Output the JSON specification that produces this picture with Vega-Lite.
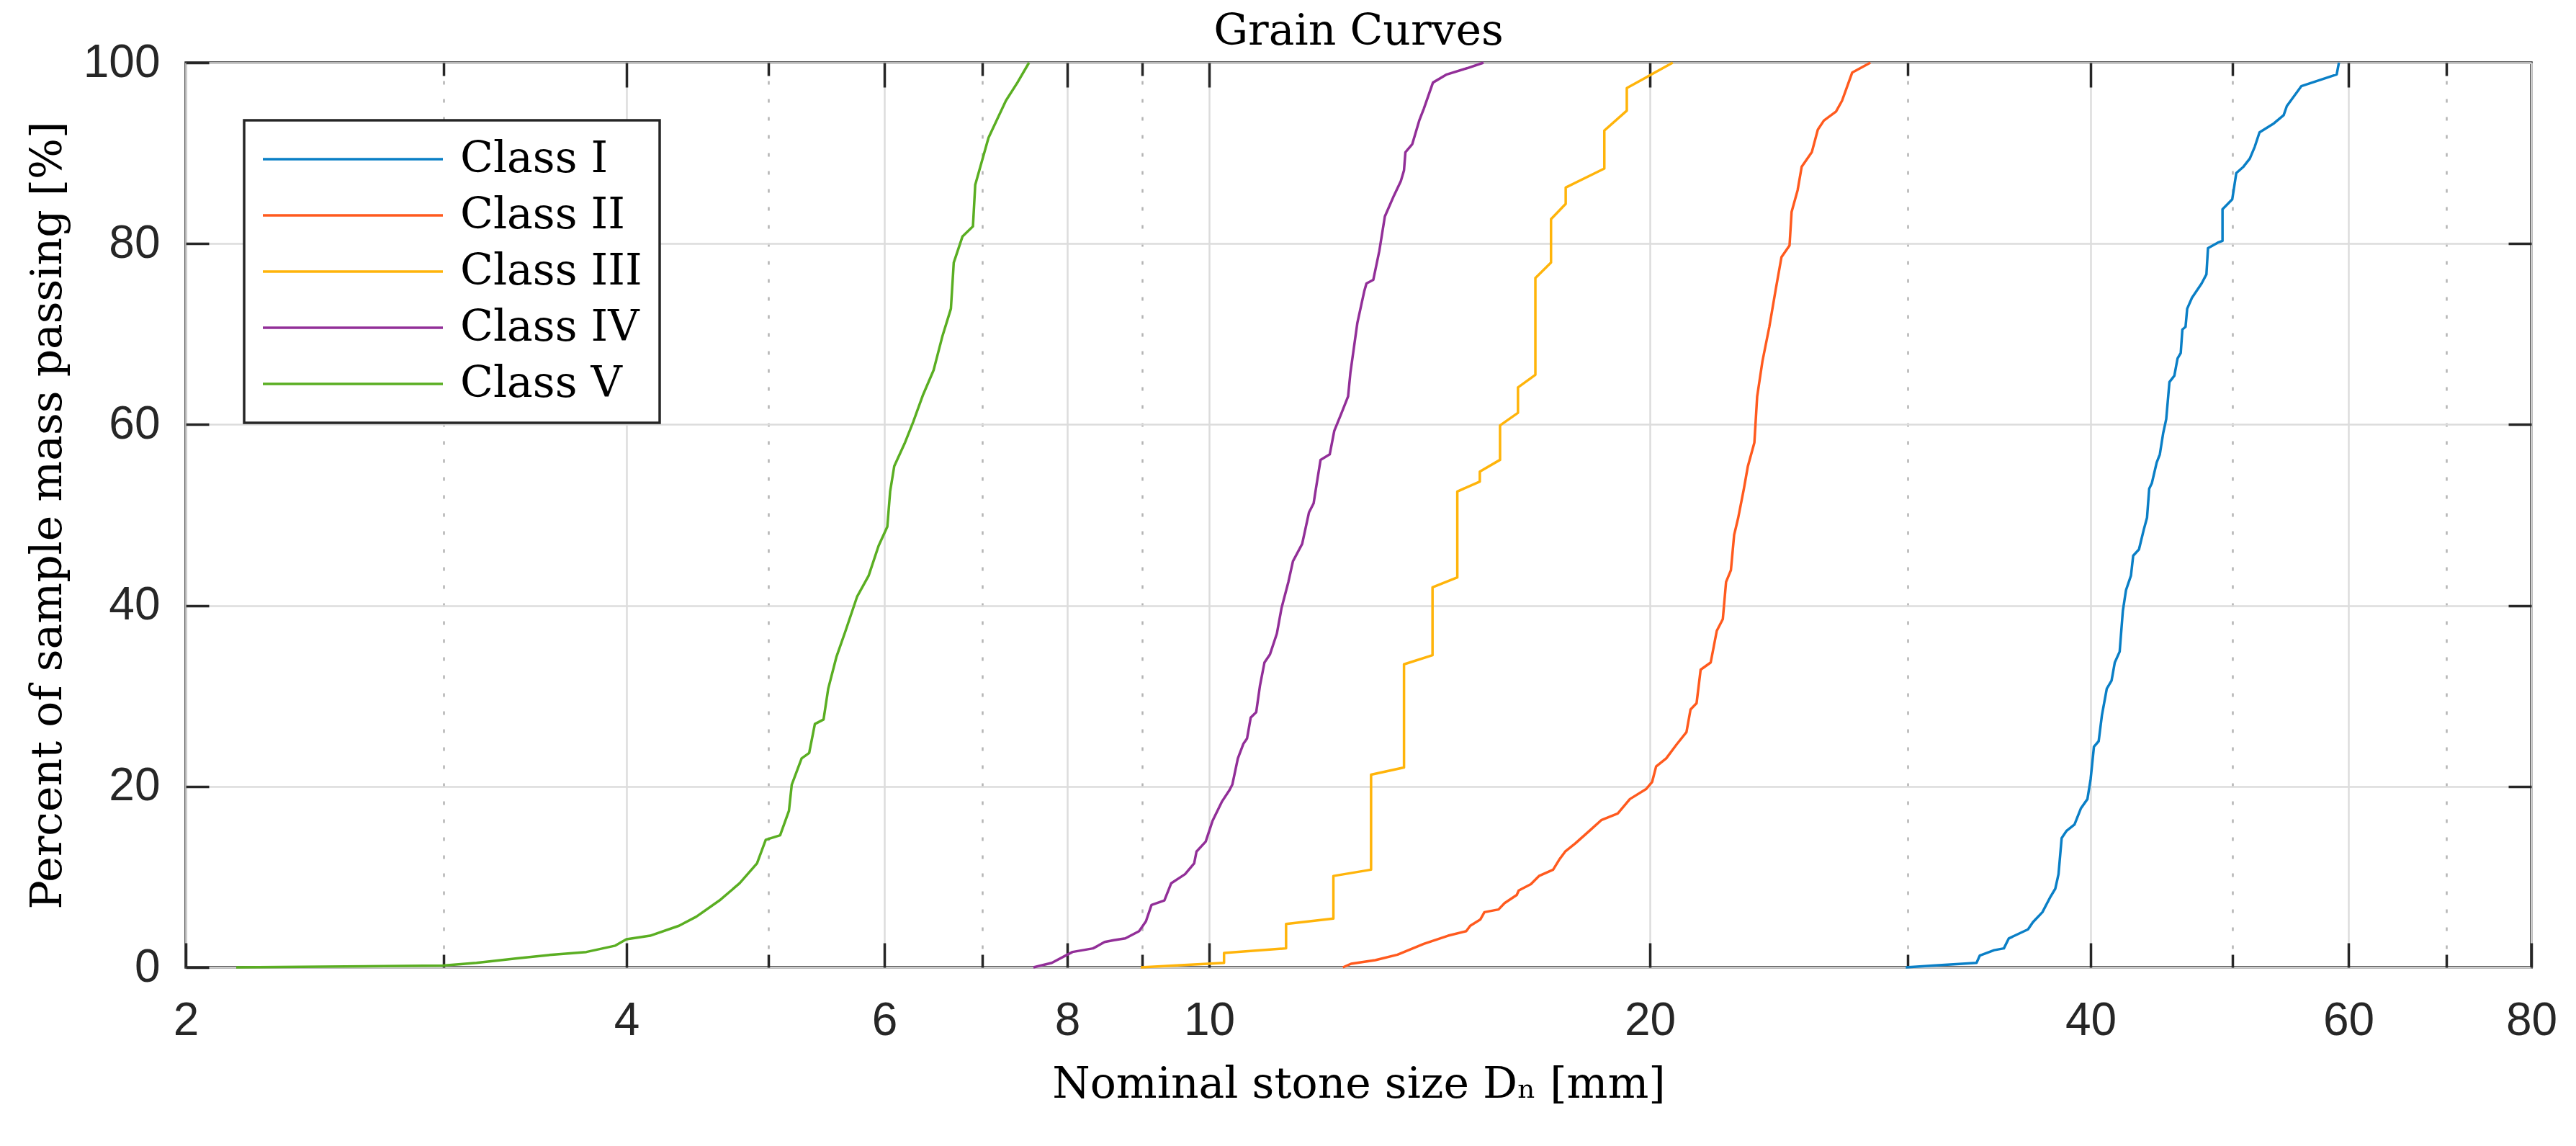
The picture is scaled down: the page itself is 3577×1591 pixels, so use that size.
{
  "$schema": "https://vega.github.io/schema/vega-lite/v6.json",
  "width": 3257,
  "height": 1256,
  "autosize": {"type": "none"},
  "padding": {"left": 258, "top": 87, "right": 62, "bottom": 248},
  "background": "white",
  "title": {
    "text": "Grain Curves",
    "font": "DejaVu Serif",
    "fontSize": 60,
    "fontWeight": "normal",
    "color": "#000000",
    "anchor": "middle",
    "offset": -20
  },
  "config": {
    "view": {"stroke": "#262626", "strokeWidth": 3.5},
    "axis": {
      "labelFont": "Liberation Sans",
      "labelFontSize": 64,
      "labelColor": "#262626",
      "titleFont": "DejaVu Serif",
      "titleFontSize": 60,
      "titleFontWeight": "normal",
      "titleColor": "#000000",
      "tickColor": "#262626",
      "tickWidth": 3.5,
      "domain": false,
      "gridColor": "#dcdcdc",
      "gridWidth": 2.5,
      "labelFlush": false,
      "labelOverlap": false
    },
    "legend": {
      "strokeColor": "#262626",
      "strokeWidth": 3.5,
      "fillColor": "white",
      "padding": 24,
      "labelFont": "DejaVu Serif",
      "labelFontSize": 60,
      "labelColor": "#000000",
      "labelLimit": 0
    }
  },
  "data": {
    "values": [
      {"c": "Class I", "d": 29.91, "p": 0},
      {"c": "Class I", "d": 31.23, "p": 0.2},
      {"c": "Class I", "d": 33.43, "p": 0.5},
      {"c": "Class I", "d": 33.6, "p": 1.3},
      {"c": "Class I", "d": 34.37, "p": 1.9},
      {"c": "Class I", "d": 34.9, "p": 2.1},
      {"c": "Class I", "d": 35.17, "p": 3.2},
      {"c": "Class I", "d": 36.25, "p": 4.2},
      {"c": "Class I", "d": 36.53, "p": 5.0},
      {"c": "Class I", "d": 37.08, "p": 6.1},
      {"c": "Class I", "d": 37.55, "p": 7.8},
      {"c": "Class I", "d": 37.84, "p": 8.7},
      {"c": "Class I", "d": 38.03, "p": 10.3},
      {"c": "Class I", "d": 38.22, "p": 14.3},
      {"c": "Class I", "d": 38.52, "p": 15.1},
      {"c": "Class I", "d": 39.0, "p": 15.8},
      {"c": "Class I", "d": 39.4, "p": 17.6},
      {"c": "Class I", "d": 39.8, "p": 18.6},
      {"c": "Class I", "d": 40.0, "p": 20.8},
      {"c": "Class I", "d": 40.21, "p": 24.4},
      {"c": "Class I", "d": 40.51, "p": 25.0},
      {"c": "Class I", "d": 40.72, "p": 27.9},
      {"c": "Class I", "d": 41.03, "p": 30.8},
      {"c": "Class I", "d": 41.34, "p": 31.7},
      {"c": "Class I", "d": 41.55, "p": 33.7},
      {"c": "Class I", "d": 41.87, "p": 34.9},
      {"c": "Class I", "d": 42.08, "p": 39.4},
      {"c": "Class I", "d": 42.29, "p": 41.7},
      {"c": "Class I", "d": 42.62, "p": 43.3},
      {"c": "Class I", "d": 42.77, "p": 45.5},
      {"c": "Class I", "d": 43.16, "p": 46.2},
      {"c": "Class I", "d": 43.49, "p": 48.4},
      {"c": "Class I", "d": 43.71, "p": 49.7},
      {"c": "Class I", "d": 43.86, "p": 52.9},
      {"c": "Class I", "d": 44.04, "p": 53.5},
      {"c": "Class I", "d": 44.38, "p": 55.8},
      {"c": "Class I", "d": 44.6, "p": 56.7},
      {"c": "Class I", "d": 44.83, "p": 59.0},
      {"c": "Class I", "d": 45.05, "p": 60.6},
      {"c": "Class I", "d": 45.28, "p": 64.7},
      {"c": "Class I", "d": 45.63, "p": 65.4},
      {"c": "Class I", "d": 45.86, "p": 67.3},
      {"c": "Class I", "d": 46.09, "p": 67.9},
      {"c": "Class I", "d": 46.21, "p": 70.5},
      {"c": "Class I", "d": 46.44, "p": 70.8},
      {"c": "Class I", "d": 46.56, "p": 72.8},
      {"c": "Class I", "d": 46.91, "p": 74.0},
      {"c": "Class I", "d": 47.63, "p": 75.6},
      {"c": "Class I", "d": 47.99, "p": 76.6},
      {"c": "Class I", "d": 48.11, "p": 79.5},
      {"c": "Class I", "d": 48.85, "p": 80.1},
      {"c": "Class I", "d": 49.22, "p": 80.3},
      {"c": "Class I", "d": 49.22, "p": 83.8},
      {"c": "Class I", "d": 49.98, "p": 84.9},
      {"c": "Class I", "d": 50.3, "p": 87.8},
      {"c": "Class I", "d": 50.87, "p": 88.5},
      {"c": "Class I", "d": 51.38, "p": 89.4},
      {"c": "Class I", "d": 51.78, "p": 90.7},
      {"c": "Class I", "d": 52.17, "p": 92.3},
      {"c": "Class I", "d": 53.37, "p": 93.3},
      {"c": "Class I", "d": 54.19, "p": 94.2},
      {"c": "Class I", "d": 54.46, "p": 95.2},
      {"c": "Class I", "d": 55.71, "p": 97.4},
      {"c": "Class I", "d": 58.9, "p": 98.7},
      {"c": "Class I", "d": 59.11, "p": 100},
      {"c": "Class II", "d": 12.341, "p": 0},
      {"c": "Class II", "d": 12.5, "p": 0.4},
      {"c": "Class II", "d": 12.985, "p": 0.8},
      {"c": "Class II", "d": 13.448, "p": 1.4},
      {"c": "Class II", "d": 14.015, "p": 2.6},
      {"c": "Class II", "d": 14.56, "p": 3.5},
      {"c": "Class II", "d": 14.982, "p": 4.0},
      {"c": "Class II", "d": 15.078, "p": 4.6},
      {"c": "Class II", "d": 15.32, "p": 5.3},
      {"c": "Class II", "d": 15.417, "p": 6.1},
      {"c": "Class II", "d": 15.764, "p": 6.4},
      {"c": "Class II", "d": 15.915, "p": 7.1},
      {"c": "Class II", "d": 16.222, "p": 8.0},
      {"c": "Class II", "d": 16.272, "p": 8.5},
      {"c": "Class II", "d": 16.586, "p": 9.2},
      {"c": "Class II", "d": 16.798, "p": 10.1},
      {"c": "Class II", "d": 17.177, "p": 10.8},
      {"c": "Class II", "d": 17.341, "p": 11.9},
      {"c": "Class II", "d": 17.506, "p": 12.8},
      {"c": "Class II", "d": 17.787, "p": 13.7},
      {"c": "Class II", "d": 18.188, "p": 15.1},
      {"c": "Class II", "d": 18.537, "p": 16.3},
      {"c": "Class II", "d": 19.015, "p": 17.0},
      {"c": "Class II", "d": 19.38, "p": 18.6},
      {"c": "Class II", "d": 19.879, "p": 19.7},
      {"c": "Class II", "d": 20.071, "p": 20.5},
      {"c": "Class II", "d": 20.197, "p": 22.2},
      {"c": "Class II", "d": 20.521, "p": 23.1},
      {"c": "Class II", "d": 20.85, "p": 24.6},
      {"c": "Class II", "d": 21.184, "p": 26.0},
      {"c": "Class II", "d": 21.32, "p": 28.5},
      {"c": "Class II", "d": 21.524, "p": 29.2},
      {"c": "Class II", "d": 21.662, "p": 32.9},
      {"c": "Class II", "d": 22.007, "p": 33.7},
      {"c": "Class II", "d": 22.219, "p": 37.2},
      {"c": "Class II", "d": 22.431, "p": 38.5},
      {"c": "Class II", "d": 22.546, "p": 42.6},
      {"c": "Class II", "d": 22.718, "p": 43.9},
      {"c": "Class II", "d": 22.834, "p": 47.8},
      {"c": "Class II", "d": 22.981, "p": 49.7},
      {"c": "Class II", "d": 23.186, "p": 52.9},
      {"c": "Class II", "d": 23.333, "p": 55.4},
      {"c": "Class II", "d": 23.572, "p": 58.0},
      {"c": "Class II", "d": 23.676, "p": 63.1},
      {"c": "Class II", "d": 23.873, "p": 67.0},
      {"c": "Class II", "d": 24.133, "p": 70.8},
      {"c": "Class II", "d": 24.363, "p": 74.7},
      {"c": "Class II", "d": 24.598, "p": 78.5},
      {"c": "Class II", "d": 24.913, "p": 79.8},
      {"c": "Class II", "d": 24.993, "p": 83.5},
      {"c": "Class II", "d": 25.231, "p": 85.9},
      {"c": "Class II", "d": 25.393, "p": 88.5},
      {"c": "Class II", "d": 25.8, "p": 90.1},
      {"c": "Class II", "d": 26.046, "p": 92.6},
      {"c": "Class II", "d": 26.295, "p": 93.6},
      {"c": "Class II", "d": 26.802, "p": 94.6},
      {"c": "Class II", "d": 27.058, "p": 95.8},
      {"c": "Class II", "d": 27.491, "p": 98.9},
      {"c": "Class II", "d": 28.289, "p": 100},
      {"c": "Class III", "d": 8.981, "p": 0},
      {"c": "Class III", "d": 10.237, "p": 0.5},
      {"c": "Class III", "d": 10.237, "p": 1.6},
      {"c": "Class III", "d": 11.286, "p": 2.1},
      {"c": "Class III", "d": 11.286, "p": 4.8},
      {"c": "Class III", "d": 12.158, "p": 5.4},
      {"c": "Class III", "d": 12.158, "p": 10.1},
      {"c": "Class III", "d": 12.9, "p": 10.8},
      {"c": "Class III", "d": 12.9, "p": 21.3},
      {"c": "Class III", "d": 13.586, "p": 22.1},
      {"c": "Class III", "d": 13.586, "p": 33.5},
      {"c": "Class III", "d": 14.209, "p": 34.5},
      {"c": "Class III", "d": 14.209, "p": 42.0},
      {"c": "Class III", "d": 14.774, "p": 43.1},
      {"c": "Class III", "d": 14.774, "p": 52.6},
      {"c": "Class III", "d": 15.306, "p": 53.7},
      {"c": "Class III", "d": 15.306, "p": 54.8},
      {"c": "Class III", "d": 15.801, "p": 56.1},
      {"c": "Class III", "d": 15.801, "p": 59.9},
      {"c": "Class III", "d": 16.253, "p": 61.3},
      {"c": "Class III", "d": 16.253, "p": 64.1},
      {"c": "Class III", "d": 16.704, "p": 65.5},
      {"c": "Class III", "d": 16.704, "p": 76.2},
      {"c": "Class III", "d": 17.12, "p": 77.9},
      {"c": "Class III", "d": 17.12, "p": 82.7},
      {"c": "Class III", "d": 17.52, "p": 84.4},
      {"c": "Class III", "d": 17.52, "p": 86.2},
      {"c": "Class III", "d": 18.617, "p": 88.3},
      {"c": "Class III", "d": 18.617, "p": 92.5},
      {"c": "Class III", "d": 19.287, "p": 94.7},
      {"c": "Class III", "d": 19.287, "p": 97.2},
      {"c": "Class III", "d": 20.731, "p": 100},
      {"c": "Class IV", "d": 7.585, "p": 0},
      {"c": "Class IV", "d": 7.808, "p": 0.5},
      {"c": "Class IV", "d": 7.979, "p": 1.3},
      {"c": "Class IV", "d": 8.066, "p": 1.7},
      {"c": "Class IV", "d": 8.332, "p": 2.1},
      {"c": "Class IV", "d": 8.484, "p": 2.8},
      {"c": "Class IV", "d": 8.608, "p": 3.0},
      {"c": "Class IV", "d": 8.765, "p": 3.2},
      {"c": "Class IV", "d": 8.957, "p": 4.0},
      {"c": "Class IV", "d": 9.054, "p": 5.1},
      {"c": "Class IV", "d": 9.133, "p": 6.9},
      {"c": "Class IV", "d": 9.32, "p": 7.4},
      {"c": "Class IV", "d": 9.421, "p": 9.3},
      {"c": "Class IV", "d": 9.628, "p": 10.3},
      {"c": "Class IV", "d": 9.767, "p": 11.5},
      {"c": "Class IV", "d": 9.803, "p": 12.8},
      {"c": "Class IV", "d": 9.946, "p": 13.9},
      {"c": "Class IV", "d": 10.054, "p": 16.2},
      {"c": "Class IV", "d": 10.201, "p": 18.3},
      {"c": "Class IV", "d": 10.326, "p": 19.6},
      {"c": "Class IV", "d": 10.371, "p": 20.2},
      {"c": "Class IV", "d": 10.462, "p": 23.1},
      {"c": "Class IV", "d": 10.552, "p": 24.7},
      {"c": "Class IV", "d": 10.614, "p": 25.3},
      {"c": "Class IV", "d": 10.675, "p": 27.6},
      {"c": "Class IV", "d": 10.768, "p": 28.2},
      {"c": "Class IV", "d": 10.831, "p": 31.1},
      {"c": "Class IV", "d": 10.909, "p": 33.7},
      {"c": "Class IV", "d": 11.004, "p": 34.6},
      {"c": "Class IV", "d": 11.124, "p": 36.9},
      {"c": "Class IV", "d": 11.205, "p": 39.7},
      {"c": "Class IV", "d": 11.327, "p": 42.6},
      {"c": "Class IV", "d": 11.409, "p": 44.9},
      {"c": "Class IV", "d": 11.575, "p": 46.8},
      {"c": "Class IV", "d": 11.701, "p": 50.3},
      {"c": "Class IV", "d": 11.786, "p": 51.3},
      {"c": "Class IV", "d": 11.828, "p": 52.9},
      {"c": "Class IV", "d": 11.915, "p": 56.1},
      {"c": "Class IV", "d": 12.088, "p": 56.7},
      {"c": "Class IV", "d": 12.175, "p": 59.3},
      {"c": "Class IV", "d": 12.309, "p": 61.2},
      {"c": "Class IV", "d": 12.442, "p": 63.1},
      {"c": "Class IV", "d": 12.487, "p": 65.7},
      {"c": "Class IV", "d": 12.624, "p": 71.2},
      {"c": "Class IV", "d": 12.761, "p": 74.7},
      {"c": "Class IV", "d": 12.807, "p": 75.6},
      {"c": "Class IV", "d": 12.946, "p": 76.0},
      {"c": "Class IV", "d": 13.069, "p": 79.2},
      {"c": "Class IV", "d": 13.183, "p": 83.0},
      {"c": "Class IV", "d": 13.372, "p": 85.3},
      {"c": "Class IV", "d": 13.518, "p": 86.9},
      {"c": "Class IV", "d": 13.586, "p": 88.1},
      {"c": "Class IV", "d": 13.616, "p": 90.1},
      {"c": "Class IV", "d": 13.764, "p": 91.0},
      {"c": "Class IV", "d": 13.915, "p": 93.6},
      {"c": "Class IV", "d": 14.015, "p": 94.9},
      {"c": "Class IV", "d": 14.219, "p": 97.8},
      {"c": "Class IV", "d": 14.531, "p": 98.7},
      {"c": "Class IV", "d": 15.011, "p": 99.4},
      {"c": "Class IV", "d": 15.395, "p": 100},
      {"c": "Class V", "d": 2.165, "p": 0},
      {"c": "Class V", "d": 2.997, "p": 0.2},
      {"c": "Class V", "d": 3.159, "p": 0.5},
      {"c": "Class V", "d": 3.367, "p": 1.0},
      {"c": "Class V", "d": 3.556, "p": 1.4},
      {"c": "Class V", "d": 3.755, "p": 1.7},
      {"c": "Class V", "d": 3.93, "p": 2.4},
      {"c": "Class V", "d": 3.999, "p": 3.1},
      {"c": "Class V", "d": 4.151, "p": 3.5},
      {"c": "Class V", "d": 4.344, "p": 4.6},
      {"c": "Class V", "d": 4.464, "p": 5.6},
      {"c": "Class V", "d": 4.63, "p": 7.4},
      {"c": "Class V", "d": 4.779, "p": 9.3},
      {"c": "Class V", "d": 4.911, "p": 11.5},
      {"c": "Class V", "d": 4.979, "p": 14.1},
      {"c": "Class V", "d": 5.093, "p": 14.6},
      {"c": "Class V", "d": 5.164, "p": 17.3},
      {"c": "Class V", "d": 5.187, "p": 20.2},
      {"c": "Class V", "d": 5.268, "p": 23.1},
      {"c": "Class V", "d": 5.331, "p": 23.7},
      {"c": "Class V", "d": 5.379, "p": 26.9},
      {"c": "Class V", "d": 5.453, "p": 27.4},
      {"c": "Class V", "d": 5.493, "p": 30.8},
      {"c": "Class V", "d": 5.564, "p": 34.3},
      {"c": "Class V", "d": 5.645, "p": 37.2},
      {"c": "Class V", "d": 5.749, "p": 41.0},
      {"c": "Class V", "d": 5.854, "p": 43.3},
      {"c": "Class V", "d": 5.946, "p": 46.6},
      {"c": "Class V", "d": 6.028, "p": 48.7},
      {"c": "Class V", "d": 6.055, "p": 52.6},
      {"c": "Class V", "d": 6.094, "p": 55.4},
      {"c": "Class V", "d": 6.194, "p": 57.9},
      {"c": "Class V", "d": 6.279, "p": 60.3},
      {"c": "Class V", "d": 6.377, "p": 63.3},
      {"c": "Class V", "d": 6.483, "p": 66.0},
      {"c": "Class V", "d": 6.572, "p": 69.7},
      {"c": "Class V", "d": 6.662, "p": 72.8},
      {"c": "Class V", "d": 6.692, "p": 77.9},
      {"c": "Class V", "d": 6.785, "p": 80.8},
      {"c": "Class V", "d": 6.897, "p": 81.9},
      {"c": "Class V", "d": 6.922, "p": 86.5},
      {"c": "Class V", "d": 7.068, "p": 91.7},
      {"c": "Class V", "d": 7.264, "p": 95.8},
      {"c": "Class V", "d": 7.397, "p": 97.8},
      {"c": "Class V", "d": 7.533, "p": 100}
    ]
  },
  "encoding": {
    "x": {
      "field": "d",
      "type": "quantitative",
      "scale": {"type": "log", "domain": [2, 80], "nice": false}
    },
    "y": {
      "field": "p",
      "type": "quantitative",
      "scale": {"domain": [0, 100], "nice": false, "zero": false}
    },
    "order": {"value": null}
  },
  "layer": [
    {
      "mark": {"type": "line", "strokeWidth": 3.5, "strokeJoin": "round"},
      "encoding": {
        "x": {
          "field": "d",
          "type": "quantitative",
          "axis": {
            "orient": "bottom",
            "values": [2, 4, 6, 8, 10, 20, 40, 60, 80],
            "format": "d",
            "tickSize": -34,
            "labelPadding": 76,
            "grid": true,
            "title": "Nominal stone size Dₙ [mm]",
            "titlePadding": 27
          }
        },
        "y": {
          "field": "p",
          "type": "quantitative",
          "axis": {
            "orient": "left",
            "values": [0, 20, 40, 60, 80, 100],
            "tickSize": -32,
            "labelPadding": 68,
            "grid": true,
            "title": "Percent of sample mass passing [%]",
            "titlePadding": 18
          }
        },
        "color": {
          "field": "c",
          "type": "nominal",
          "scale": {
            "domain": ["Class I", "Class II", "Class III", "Class IV", "Class V"],
            "range": ["#0a7fc6", "#ff5a1e", "#ffb40a", "#922f98", "#5aae22"]
          },
          "legend": {
            "orient": "none",
            "legendX": 81,
            "legendY": 80,
            "title": null,
            "symbolType": "stroke",
            "symbolSize": 62500,
            "symbolStrokeWidth": 3.5,
            "clipHeight": 60,
            "rowPadding": 18,
            "labelOffset": 22
          }
        }
      }
    },
    {
      "mark": {"type": "line", "opacity": 0},
      "encoding": {
        "detail": {"field": "c"},
        "x": {
          "field": "d",
          "type": "quantitative",
          "axis": {
            "orient": "bottom",
            "values": [3, 5, 7, 9, 30, 50, 70],
            "labels": false,
            "tickSize": -18,
            "grid": true,
            "gridColor": "#b4b4b4",
            "gridDash": [5, 20],
            "gridWidth": 2.5,
            "title": null
          }
        },
        "y": {
          "field": "p",
          "type": "quantitative",
          "axis": {
            "orient": "right",
            "values": [20, 40, 60, 80],
            "labels": false,
            "tickSize": -32,
            "grid": false,
            "title": null
          }
        }
      }
    },
    {
      "mark": {"type": "line", "opacity": 0},
      "encoding": {
        "detail": {"field": "c"},
        "x": {
          "field": "d",
          "type": "quantitative",
          "axis": {
            "orient": "top",
            "values": [4, 6, 8, 10, 20, 40, 60],
            "labels": false,
            "tickSize": -34,
            "grid": false,
            "title": null
          }
        },
        "y": {"field": "p", "type": "quantitative", "axis": null}
      }
    },
    {
      "mark": {"type": "line", "opacity": 0},
      "encoding": {
        "detail": {"field": "c"},
        "x": {
          "field": "d",
          "type": "quantitative",
          "axis": {
            "orient": "top",
            "values": [3, 5, 7, 9, 30, 50, 70],
            "labels": false,
            "tickSize": -18,
            "grid": false,
            "title": null
          }
        },
        "y": {"field": "p", "type": "quantitative", "axis": null}
      }
    }
  ],
  "resolve": {"axis": {"x": "independent", "y": "independent"}}
}
